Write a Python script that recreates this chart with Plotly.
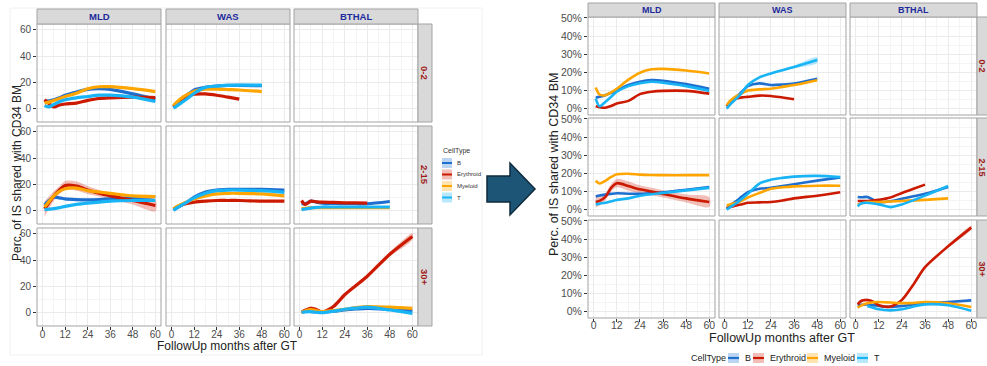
import plotly.graph_objects as go

W, H = 987, 366

# ---------------------------------------------------------------- data ----
MONTHS = [1, 3, 6, 9, 12, 18, 24, 30, 36, 48, 60]
CELL_TYPES = ["B", "Erythroid", "Myeloid", "T"]
DISEASES = ["MLD", "WAS", "BTHAL"]
AGE_GROUPS = ["0-2", "2-15", "30+"]
X_TICKS = [0, 12, 24, 36, 48, 60]
LEFT_Y_TICKS = [0, 20, 40, 60]
RIGHT_Y_TICKS = [0, 10, 20, 30, 40, 50]

# first analysis: % of IS shared with CD34 BM, smoothed per cell type
left_mld_0_2 = {
    "B": [6, 5.5, 6.5, 8, 10, 12.5, 14.5, 15, 14.5, 11, 7],
    "Erythroid": [6.5, 4, 1, 2.5, 3.3, 4, 6, 7.5, 8, 8.5, 8.2],
    "Myeloid": [4, 4.5, 6, 7.5, 9, 11.5, 15, 16.5, 16.5, 15, 12.8],
    "T": [2, 1, 3, 5, 6.5, 8, 9, 10, 10, 8.5, 5.2],
}
left_was_0_2 = {
    "B": [1, 4, 7.7, 11, 14, 16, 17, 17.5, 17.5, 17.3, None],
    "Erythroid": [1.3, 4, 7.7, 9.5, 10.8, 11, 10, 8.5, 7, None, None],
    "Myeloid": [2, 5, 8.5, 11, 13, 14.6, 14.6, 14.3, 14, 12.8, None],
    "T": [0, 2, 5, 8, 11.5, 16, 17, 17.5, 17.7, 17.7, None],
}
left_mld_2_15 = {
    "B": [4, 7, 10, 9.5, 8.7, 8.2, 8, 8.2, 8.7, 9.5, 10.5],
    "Erythroid": [1, 5, 11, 15.5, 19, 18.5, 15.5, 13, 11, 7.5, 3.7],
    "Myeloid": [2.5, 6, 11, 14.5, 16.5, 17, 15, 14, 13, 11, 10.5],
    "T": [0.5, 0.8, 1.3, 2, 3, 4.5, 5.5, 6.3, 7, 7.5, 7.5],
}
left_was_2_15 = {
    "B": [0, 2, 4.5, 7, 10, 14, 15.5, 16, 16, 16, 15.5],
    "Erythroid": [1, 2.5, 4.5, 5.5, 6.2, 7, 7.5, 7.5, 7.5, 7, 7],
    "Myeloid": [1, 3, 5, 7, 8.7, 11, 12.5, 13, 13, 12.5, 11],
    "T": [0, 2, 4.5, 7, 9.5, 13, 15, 15.5, 15.5, 15, 13.7],
}
left_bthal_2_15 = {
    "B": [5, 5, 7, 6.2, 5.5, 5.2, 5, 5, 5, 6.7, None],
    "Erythroid": [7.5, 4.5, 7, 6.5, 6.2, 6, 5.7, 5.6, 5.5, None, None],
    "Myeloid": [1.2, 1.5, 2, 2, 2, 2, 2, 2, 2, 2, None],
    "T": [0.5, 1, 1.7, 2.2, 2.5, 2.5, 2.5, 2.5, 2.5, 2.5, None],
}
left_bthal_30 = {
    "B": [None, None, 0.5, 0.3, 0, 0.8, 1.8, 2.5, 3, 2.3, 1.3],
    "Erythroid": [0, 1.5, 3, 2, 0.2, 4.4, 13.4, 20.5, 27.6, 44.4, 58],
    "Myeloid": [0, 1, 2, 1.2, 0.5, 1.3, 2.3, 3.5, 4.4, 3.9, 3],
    "T": [0, 0.3, 0.5, 0, -0.3, 0.8, 2.3, 3.2, 3.9, 1.8, -0.8],
}
# confidence half-widths of the smoothers that show a visible band
left_mld_2_15_ery_se = [6, 5, 3.5, 3, 3.5, 3.5, 3, 2.5, 2.5, 3, 4.5]
left_bthal_30_ery_se = [1.5, 1.5, 1.5, 1.5, 1.5, 1.2, 1.2, 1.2, 1.5, 1.8, 2.5]

# second analysis
right_mld_0_2 = {
    "B": [6, 6.5, 7.4, 8.7, 10, 13, 14.8, 15.7, 15.4, 13.5, 11],
    "Erythroid": [1.3, 0.8, 0.5, 1.5, 2.8, 4.3, 8, 9.3, 9.8, 9.8, 8.3],
    "Myeloid": [11.7, 7.8, 7.4, 9, 11, 16, 19.8, 21.7, 21.9, 21, 19.4],
    "T": [5.5, 1.3, 3.7, 6.5, 9.3, 12.4, 14, 14.8, 14.3, 12.4, 9.8],
}
right_was_0_2 = {
    "B": [1.3, 3.5, 6.5, 9.5, 12.4, 13.9, 13, 13.3, 13.9, 16.5, None],
    "Erythroid": [1.3, 3.5, 5.5, 6.2, 6.5, 7.2, 7, 6.1, 5.2, None, None],
    "Myeloid": [1.9, 4.5, 6.9, 8.5, 10, 10.6, 11, 12, 13, 15.7, None],
    "T": [0, 2.5, 5.5, 9, 13, 17.2, 19.4, 21.2, 23, 26.8, None],
}
right_mld_2_15 = {
    "B": [7.3, 7.8, 8.3, 8.7, 9, 8.8, 8.7, 9.1, 9.6, 11, 12.5],
    "Erythroid": [4.2, 4.8, 7, 12, 14.6, 13, 11.2, 10, 8.7, 6.2, 4.2],
    "Myeloid": [15.9, 14.4, 15.9, 18, 19.5, 19.8, 19.3, 19.1, 19, 19, 19],
    "T": [2.9, 3.3, 3.8, 4.6, 5.4, 6.2, 7.7, 8.5, 9.2, 10.6, 12],
}
right_was_2_15 = {
    "B": [0.4, 2.5, 4.8, 7.3, 9.6, 11.5, 12, 13, 14, 16, 17.8],
    "Erythroid": [1, 1.5, 2.3, 3, 3.8, 4, 4.2, 5, 6.2, 7.7, 9.6],
    "Myeloid": [2.3, 3, 3.8, 5, 6.7, 9.2, 11.5, 12.3, 12.8, 13.2, 13.2],
    "T": [0, 1.5, 3.5, 6, 8.7, 14.4, 16.5, 17.5, 18.2, 18.6, 18],
}
right_bthal_2_15 = {
    "B": [7, 6.8, 7, 5.5, 4.2, 4.6, 6, 7.4, 8.7, 12.5, None],
    "Erythroid": [4.8, 4.8, 4.8, 5, 5.4, 6.7, 9.2, 11.5, 13.8, None, None],
    "Myeloid": [2.9, 3.5, 4.2, 4.2, 4.2, 4.5, 4.8, 5.1, 5.4, 6.2, None],
    "T": [1.9, 3.5, 3.8, 3.4, 2.9, 1.4, 2.9, 5.2, 7.7, 13, None],
}
right_bthal_30 = {
    "B": [3.5, 3.8, 4, 3.6, 3.1, 2.6, 3.1, 3.9, 4.6, 5.3, 6.2],
    "Erythroid": [4, 6, 6.4, 5.5, 3.5, 2.8, 6.5, 15, 24.5, 36, 46.3],
    "Myeloid": [2.2, 3.5, 4.6, 5.2, 5.3, 5, 4.7, 4.8, 5.3, 4.6, 2.6],
    "T": [None, None, 3.1, 2.2, 1.3, 0.7, 1.3, 2.8, 4, 3.5, 0.5],
}
right_mld_2_15_ery_se = [3, 2.5, 2, 2, 2.3, 2.5, 2.2, 2, 2, 2.2, 2.8]
right_was_0_2_t_se = [0.8, 0.6, 0.5, 0.5, 0.5, 0.5, 0.6, 0.7, 0.8, 1.6, None]
right_bthal_30_ery_se = [1, 0.8, 0.8, 0.8, 0.8, 0.8, 0.8, 0.8, 0.8, 0.8, 1]

LEFT_PANELS = {
    ("MLD", "0-2"): left_mld_0_2, ("WAS", "0-2"): left_was_0_2,
    ("MLD", "2-15"): left_mld_2_15, ("WAS", "2-15"): left_was_2_15,
    ("BTHAL", "2-15"): left_bthal_2_15, ("BTHAL", "30+"): left_bthal_30,
}
LEFT_BANDS = {
    ("MLD", "2-15", "Erythroid"): left_mld_2_15_ery_se,
    ("BTHAL", "30+", "Erythroid"): left_bthal_30_ery_se,
}
RIGHT_PANELS = {
    ("MLD", "0-2"): right_mld_0_2, ("WAS", "0-2"): right_was_0_2,
    ("MLD", "2-15"): right_mld_2_15, ("WAS", "2-15"): right_was_2_15,
    ("BTHAL", "2-15"): right_bthal_2_15, ("BTHAL", "30+"): right_bthal_30,
}
RIGHT_BANDS = {
    ("MLD", "2-15", "Erythroid"): right_mld_2_15_ery_se,
    ("WAS", "0-2", "T"): right_was_0_2_t_se,
    ("BTHAL", "30+", "Erythroid"): right_bthal_30_ery_se,
}

# --------------------------------------------------------------- style ----
LINE_COLORS = {"B": "#1f6fcf", "Erythroid": "#cc1a00", "Myeloid": "#ffa500", "T": "#18b4f5"}
BAND_COLORS = {"B": "rgba(31,111,207,0.3)", "Erythroid": "rgba(204,26,0,0.28)",
               "Myeloid": "rgba(255,165,0,0.3)", "T": "rgba(24,180,245,0.3)"}
FONT = "Liberation Sans, Arial, sans-serif"
TICK_COLOR = "#4d4d4d"
BORDER = "#a3a3a3"
STRIP_FILL = "#d9d9d9"
COL_TEXT = "#1c2a9c"
ROW_TEXT = "#9e1a1a"

LAYOUTS = {
    "left": dict(cols=[37, 166, 294], cw=124, rows=[24, 126, 228], rh=98,
                 strip_top=9, strip_right=14, row_label_dx=7, yrange=[-10.5, 64.5],
                 yticks=LEFT_Y_TICKS, suffix="", ymdt=10, xstandoff=-4,
                 lw=3.2, tickfont=10, stripfont=9.5),
    "right": dict(cols=[588, 719, 850], cw=127, rows=[17, 118, 220], rh=98,
                  strip_top=3, strip_right=18, row_label_dx=4.5, yrange=[-3.5, 50.5],
                  yticks=RIGHT_Y_TICKS, suffix="%", ymdt=5, xstandoff=-6,
                  lw=2.6, tickfont=10.5, stripfont=9),
}


def px(x):
    return x / W


def py(y):
    return 1 - y / H


def label(text, x, y, size, color, angle=0, xanchor="center"):
    return dict(text=text, x=px(x), y=py(y), xref="paper", yref="paper", showarrow=False,
                xanchor=xanchor, yanchor="middle", textangle=angle,
                font=dict(size=size, color=color, family=FONT))


fig = go.Figure()
shapes, annotations = [], []
axis_layout = {}
idx = 0

for side, panels, bands in (("left", LEFT_PANELS, LEFT_BANDS), ("right", RIGHT_PANELS, RIGHT_BANDS)):
    g = LAYOUTS[side]
    for r, age in enumerate(AGE_GROUPS):
        for c, dis in enumerate(DISEASES):
            idx += 1
            xa = "x" if idx == 1 else f"x{idx}"
            ya = "y" if idx == 1 else f"y{idx}"
            x0, y0 = g["cols"][c], g["rows"][r]
            x1, y1 = x0 + g["cw"], y0 + g["rh"]
            axis_layout["xaxis" if idx == 1 else f"xaxis{idx}"] = dict(
                domain=[px(x0), px(x1)], anchor=ya, range=[-3, 63],
                tickmode="array", tickvals=X_TICKS, ticktext=[str(v) for v in X_TICKS],
                showticklabels=(r == 2), ticklabelstandoff=g["xstandoff"],
                ticks="outside" if r == 2 else "", ticklen=3, tickcolor="#333333",
                tickfont=dict(size=g["tickfont"], color=TICK_COLOR, family=FONT),
                showgrid=True, gridcolor="#ebebeb", gridwidth=1, zeroline=False,
                minor=dict(dtick=6, tick0=0, showgrid=True, gridcolor="#f4f4f4", gridwidth=0.6),
                showline=False, fixedrange=True)
            axis_layout["yaxis" if idx == 1 else f"yaxis{idx}"] = dict(
                domain=[py(y1), py(y0)], anchor=xa, range=g["yrange"],
                tickmode="array", tickvals=g["yticks"],
                ticktext=[f"{v}{g['suffix']}" for v in g["yticks"]],
                showticklabels=(c == 0), ticks="outside" if c == 0 else "",
                ticklen=3, tickcolor="#333333",
                tickfont=dict(size=g["tickfont"], color=TICK_COLOR, family=FONT),
                showgrid=True, gridcolor="#ebebeb", gridwidth=1, zeroline=False,
                minor=dict(dtick=g["ymdt"], tick0=0, showgrid=True, gridcolor="#f4f4f4", gridwidth=0.6),
                showline=False, fixedrange=True)
            # panel border
            shapes.append(dict(type="rect", xref="paper", yref="paper",
                               x0=px(x0), x1=px(x1), y0=py(y1), y1=py(y0),
                               line=dict(color=BORDER, width=1), layer="above"))
            # column strips
            if r == 0:
                st = g["strip_top"]
                shapes.append(dict(type="rect", xref="paper", yref="paper",
                                   x0=px(x0), x1=px(x1), y0=py(y0), y1=py(st),
                                   fillcolor=STRIP_FILL, line=dict(color=BORDER, width=1)))
                annotations.append(label(f"<b>{dis}</b>", (x0 + x1) / 2, (st + y0) / 2,
                                         g["stripfont"], COL_TEXT))
            # row strips
            if c == 2:
                sr = x1 + g["strip_right"]
                shapes.append(dict(type="rect", xref="paper", yref="paper",
                                   x0=px(x1), x1=px(sr), y0=py(y1), y1=py(y0),
                                   fillcolor=STRIP_FILL, line=dict(color=BORDER, width=1)))
                annotations.append(label(f"<b>{age}</b>", x1 + g["row_label_dx"], (y0 + y1) / 2,
                                         g["stripfont"], ROW_TEXT, angle=90))

            data = panels.get((dis, age))
            if not data:
                # empty facet: keep the axes alive
                fig.add_trace(go.Scatter(x=[None], y=[None], xaxis=xa, yaxis=ya, mode="lines",
                                         hoverinfo="skip", showlegend=False))
                continue
            # confidence bands first, then smoothers on top
            for ct in CELL_TYPES:
                se = bands.get((dis, age, ct))
                if se is None:
                    continue
                pts = [(m, v, s) for m, v, s in zip(MONTHS, data[ct], se) if v is not None and s is not None]
                xs = [p[0] for p in pts] + [p[0] for p in reversed(pts)]
                ys = [p[1] + p[2] for p in pts] + [p[1] - p[2] for p in reversed(pts)]
                fig.add_trace(go.Scatter(x=xs, y=ys, xaxis=xa, yaxis=ya, mode="lines",
                                         fill="toself", fillcolor=BAND_COLORS[ct],
                                         line=dict(width=0, shape="spline", smoothing=0.8),
                                         hoverinfo="skip", showlegend=False))
            for ct in CELL_TYPES:
                fig.add_trace(go.Scatter(x=MONTHS, y=data[ct], xaxis=xa, yaxis=ya, mode="lines",
                                         line=dict(color=LINE_COLORS[ct], width=g["lw"],
                                                   shape="spline", smoothing=0.8),
                                         name=ct, showlegend=False))

# axis titles
annotations += [
    label("FollowUp months after GT", 227, 346, 12, "#222222"),
    label("Perc. of IS shared with CD34 BM", 17, 173, 12, "#222222", angle=-90),
    label("FollowUp months after GT", 782, 338, 12.5, "#222222"),
    label("Perc. of IS shared with CD34 BM", 554, 165, 12.5, "#222222", angle=-90),
]

# faint frame of the first chart
shapes.append(dict(type="rect", xref="paper", yref="paper", x0=px(10), x1=px(482),
                   y0=py(355), y1=py(8), line=dict(color="#f0f0f0", width=1), layer="below"))

# vertical legend of the first chart
annotations.append(label("CellType", 441, 151, 7, "#333333", xanchor="left"))
for i, ct in enumerate(CELL_TYPES):
    cy = 163 + i * 11.5
    shapes.append(dict(type="rect", xref="paper", yref="paper", x0=px(442), x1=px(452),
                       y0=py(cy + 5), y1=py(cy - 5), fillcolor=BAND_COLORS[ct], line=dict(width=0)))
    shapes.append(dict(type="line", xref="paper", yref="paper", x0=px(442), x1=px(452),
                       y0=py(cy), y1=py(cy), line=dict(color=LINE_COLORS[ct], width=2)))
    annotations.append(label(ct, 455, cy, 6, "#333333", xanchor="left"))

# horizontal legend of the second chart
annotations.append(label("CellType", 689, 358, 9, "#222222", xanchor="left"))
key_x = {"B": 728, "Erythroid": 753, "Myeloid": 807, "T": 857}
for ct in CELL_TYPES:
    kx = key_x[ct]
    shapes.append(dict(type="rect", xref="paper", yref="paper", x0=px(kx), x1=px(kx + 11),
                       y0=py(363), y1=py(353), fillcolor=BAND_COLORS[ct], line=dict(width=0)))
    shapes.append(dict(type="line", xref="paper", yref="paper", x0=px(kx), x1=px(kx + 11),
                       y0=py(358), y1=py(358), line=dict(color=LINE_COLORS[ct], width=2.2)))
    annotations.append(label(ct, kx + 15, 358, 9, "#222222", xanchor="left"))

# arrow between the two charts
arrow_pts = [(487, 176), (510, 176), (510, 163), (535, 189), (510, 215), (510, 202), (487, 202)]
path = "M " + " L ".join(f"{px(x):.5f},{py(y):.5f}" for x, y in arrow_pts) + " Z"
shapes.append(dict(type="path", xref="paper", yref="paper", path=path,
                   fillcolor="#1d5577", line=dict(color="#0e2a3c", width=1.5)))

fig.update_layout(
    width=W, height=H, margin=dict(l=0, r=0, t=0, b=0, autoexpand=False),
    paper_bgcolor="white", plot_bgcolor="white", showlegend=False,
    font=dict(family=FONT), shapes=shapes, annotations=annotations, **axis_layout)

fig.write_html("out.html")
